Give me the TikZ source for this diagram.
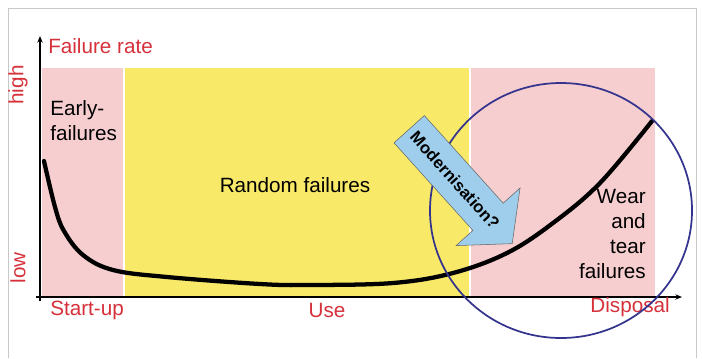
\documentclass[tikz,border=0pt]{standalone}
\usepackage{fontspec}
\setmainfont{Liberation Sans}
\usetikzlibrary{shapes.arrows,arrows.meta}

\definecolor{phasepink}{RGB}{247,206,207}
\definecolor{phaseyellow}{RGB}{248,233,104}
\definecolor{labelred}{RGB}{214,48,58}
\definecolor{circleblue}{RGB}{52,52,142}
\definecolor{arrowblue}{RGB}{158,206,236}
\definecolor{framegrey}{RGB}{200,200,200}

\begin{document}
\begin{tikzpicture}[x=0.75pt,y=0.75pt,yscale=-1,xscale=1,
  lbl/.style={inner sep=0.75pt,font=\fontsize{15.5}{18.75}\selectfont},
  redlbl/.style={lbl,text=labelred}]
  \useasboundingbox (0,0) rectangle (702,358);

  %Frame
  \draw [framegrey] (8,358) -- (8,8) -- (696,8) -- (696,358) ;

  %Phases
  \fill [phasepink]   (42,68) rectangle (123,296) ;
  \fill [phaseyellow] (125,68) rectangle (469,296) ;
  \fill [phasepink]   (471,68) rectangle (655,296) ;

  %Axes
  \coordinate (origin) at (40,297);
  \coordinate (ytop) at (40,36);
  \coordinate (xend) at (682,297);
  \draw [line width=0.9, -{Stealth[length=5pt,width=4pt]}] (40,301) -- (ytop) ;
  \draw [line width=0.9, -{Stealth[length=5pt,width=4pt]}] (36,297) -- (xend) ;

  %Bathtub curve
  \draw [line width=3.2pt, line cap=round, line join=round] plot [smooth, tension=0.6] coordinates {(44,161) (55,207) (64,231) (83,255) (113,270) (167,277) (260,284) (310,285) (393,283) (453,273) (507,253) (553,223) (600,183) (652,121)} ;

  % Text Node
  \node (rate) [redlbl, anchor=west] at (47,46) {Failure rate};
  % Text Node
  \node (high) [redlbl, rotate=90] at (18,85) {high};
  % Text Node
  \node (low) [redlbl, rotate=90] at (18,268) {low};
  % Text Node
  \node (early) [lbl, anchor=west, align=left] at (49,121) {Early-\\failures};
  % Text Node
  \node (random) [lbl] at (295,185) {Random failures};
  % Text Node
  \node (wear) [lbl, anchor=east, align=right] at (647,234) {Wear\\and\\tear\\failures};
  % Text Node
  \node (startup) [redlbl, anchor=west] at (49,310) {Start-up};
  % Text Node
  \node (use) [redlbl] at (327,310) {Use};
  % Text Node
  \node (disposal) [redlbl, anchor=east] at (671,307) {Disposal};

  %Ellipse
  \draw [circleblue, line width=1.3] (561,210.5) ellipse [x radius=131, y radius=127.5] ;

  %Block arrow
  \node (modern) [single arrow, draw=black!60, fill=arrowblue, rotate=-48, anchor=tail,
    minimum height=115.5pt, single arrow head extend=17pt, single arrow tip angle=100,
    inner xsep=2pt, inner ysep=10.5pt, font=\bfseries\fontsize{12.5}{14}\selectfont] at (409,129) {Modernisation?};

\end{tikzpicture}
\end{document}
